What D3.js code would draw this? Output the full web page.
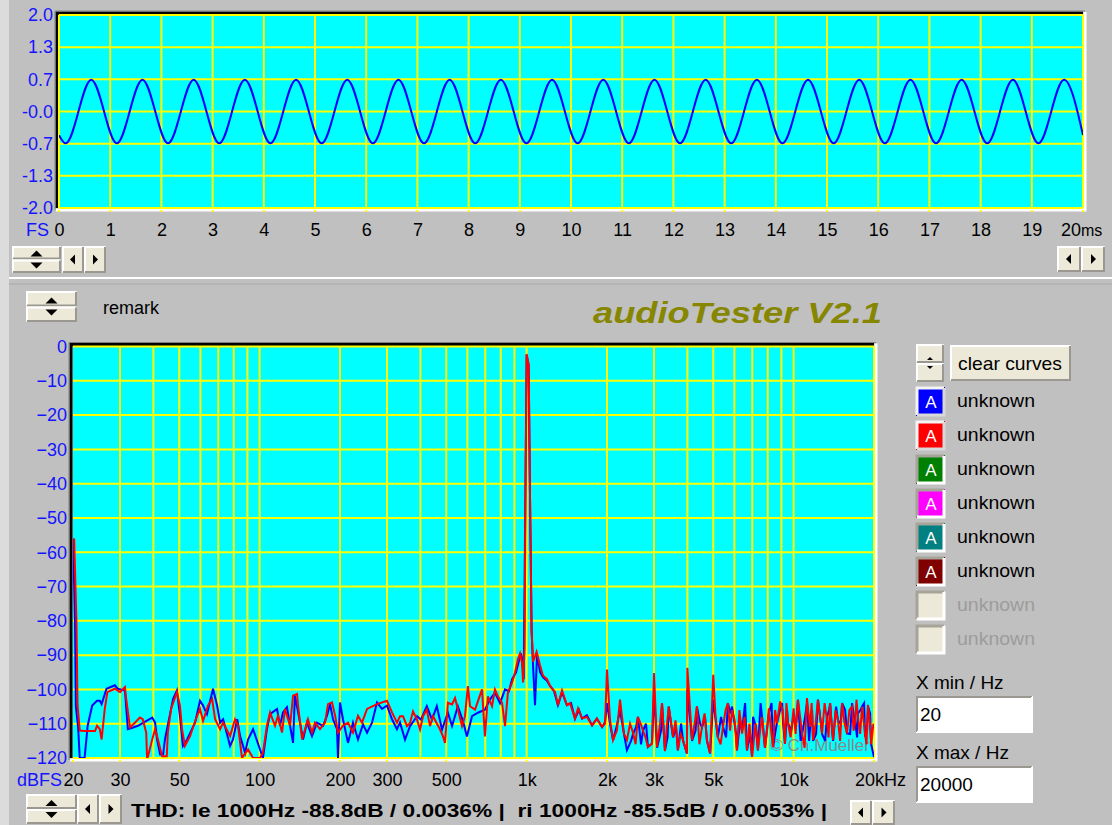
<!DOCTYPE html>
<html>
<head>
<meta charset="utf-8">
<script src="https://cdn.jsdelivr.net/npm/d3@7/dist/d3.min.js"></script>
<style>
  body { margin: 0; background: #c0c0c0; overflow: hidden; }
  svg { display: block; font-family: "Liberation Sans", Arial, sans-serif; }
</style>
</head>
<body>
<svg id="app" width="1112" height="825"></svg>
<script>
// ---- waveform (time in ms, level in FS) ----
const wavePoints = [
  [0, -0.49], [0.13, -0.66], [0.63, 0.66], [1.13, -0.66], [1.63, 0.66], [2.13, -0.66], [2.63, 0.66],
  [3.13, -0.66], [3.63, 0.66], [4.13, -0.66], [4.63, 0.66], [5.13, -0.66], [5.63, 0.66], [6.13, -0.66],
  [6.63, 0.66], [7.13, -0.66], [7.63, 0.66], [8.13, -0.66], [8.63, 0.66], [9.13, -0.66], [9.63, 0.66],
  [10.13, -0.66], [10.63, 0.66], [11.13, -0.66], [11.63, 0.66], [12.13, -0.66], [12.63, 0.66],
  [13.13, -0.66], [13.63, 0.66], [14.13, -0.66], [14.63, 0.66], [15.13, -0.66], [15.63, 0.66],
  [16.13, -0.66], [16.63, 0.66], [17.13, -0.66], [17.63, 0.66], [18.13, -0.66], [18.63, 0.66],
  [19.13, -0.66], [19.63, 0.66], [20, -0.49]
];
const ampTicks = [2, 1.333, 0.667, 0, -0.667, -1.333, -2];
const ampLabels = ["2.0", "1.3", "0.7", "-0.0", "-0.7", "-1.3", "-2.0"];
const timeTicks = [0, 1, 2, 3, 4, 5, 6, 7, 8, 9, 10, 11, 12, 13, 14, 15, 16, 17, 18, 19];

// ---- spectrum (Hz, dBFS), left = blue, right = red ----
const leftSpectrum = [
  [20, -56], [20.35, -80], [20.5, -105], [20.9, -111], [21.2, -120], [22.1, -120], [22.7, -110.6],
  [23.6, -104.7], [24.6, -103.3], [25.2, -103.3], [25.6, -104.3], [26.7, -99.8], [28.7, -98.8],
  [29.4, -99.8], [31.3, -100.3], [32.1, -111.6], [33.6, -111.1], [35, -110.6], [39.6, -108.2],
  [40.6, -109.7], [41.3, -114.6], [42.4, -119], [43.5, -119], [44.2, -114.6], [47.4, -102.8],
  [49, -100.3], [50.3, -107.7], [51.6, -116.5], [53.5, -114.6], [55.8, -111.6], [57.3, -109.7],
  [59.8, -103.3], [61.4, -104.7], [63.5, -107.2], [66.9, -99.8], [69.3, -104.7], [71.1, -109.7],
  [73, -108.7], [77.5, -116.5], [79.5, -114.6], [82.4, -108.7], [84.5, -113.6], [88.2, -118.5],
  [90.5, -114.6], [94.5, -111.6], [102.9, -120], [106.5, -111.6], [109.4, -107.2], [116.2, -105.7],
  [119.2, -110.6], [122.3, -106.7], [126.6, -105.2], [130, -110.6], [133.4, -115.6], [135.6, -101.8],
  [141.7, -109.7], [145.4, -114.6], [150.4, -109.7], [157.1, -113.6], [164, -109.7], [172.7, -110.6],
  [178.7, -107.7], [183.5, -104.3], [188.3, -108.7], [194.9, -111.6], [196.6, -120], [200, -103.8],
  [205.2, -108.7], [214.3, -115.6], [223.7, -109.7], [233.6, -114.6], [243.9, -110.2], [252.5, -112.6],
  [263.6, -109.7], [275.2, -103.8], [287.3, -105.7], [299.9, -104.7], [313.2, -108.7], [326.9, -111.6],
  [335.6, -109.7], [350.4, -114.6], [365.8, -110.7], [388.5, -107.8], [402, -108.8], [422.8, -104.9],
  [442.3, -108.8], [460.9, -104.9], [482, -111.7], [507, -106.8], [525.6, -110.7], [552.5, -104.9],
  [577.8, -109.3], [597.5, -113.7], [624.5, -107.8], [656.9, -106.8], [698.1, -105.9], [729.4, -102.9],
  [761, -101], [795.1, -104], [830.1, -100], [859, -100.5], [881.8, -97.1], [912.8, -95], [937, -91.5],
  [953, -89.5], [961, -91], [975, -97], [990, -41], [1000, -2.5], [1018, -5.5], [1030, -45],
  [1044, -83], [1057, -93], [1075, -104.6], [1094, -90], [1123, -95], [1152, -96.5], [1192, -97.5],
  [1224, -99], [1267, -100.5], [1310, -104.6], [1357, -100.8], [1415, -104.6], [1467, -104],
  [1517, -108.5], [1571, -106], [1613, -108.5], [1682, -107.5], [1758, -110.5], [1833, -108.5],
  [1916, -111], [1967, -109.5], [2000, -104], [2053, -110], [2107, -114.8], [2178, -110.5], [2238, -106],
  [2316, -113], [2375, -117.7], [2503, -113], [2611, -108], [2729, -112], [2846, -116.8], [2949, -115.8],
  [3000, -101], [3080, -117], [3214, -104], [3296, -117.8], [3407, -105], [3535, -114], [3686, -117.8],
  [3854, -115], [3985, -118.7], [4000, -100], [4164, -115], [4344, -105], [4540, -111], [4735, -115],
  [4865, -118.7], [5000, -103], [5200, -114], [5441, -111], [5674, -104], [5880, -105], [6134, -117.8],
  [6409, -112], [6687, -117.8], [6987, -119.7], [7048, -108], [7351, -117.8], [7617, -108], [7811, -117],
  [8073, -107], [8375, -116.8], [8661, -109.8], [8899, -106], [9055, -104], [9282, -115.8], [9522, -109.8],
  [10000, -108], [10380, -103], [10755, -113], [11220, -104], [11527, -111], [11827, -115], [12334, -103],
  [12780, -113], [13333, -108], [13698, -104], [14054, -115], [14657, -109], [15186, -104], [15843, -112.8],
  [16554, -104], [16977, -109], [17400, -107], [18046, -105], [18509, -113], [18986, -105], [19517, -116],
  [20000, -119.7]
];
// finer bins of the left channel between 2 kHz and 20 kHz
const leftSpectrumHf = [
  [2461, -115], [2570, -111], [2683, -116], [2801, -110], [3187, -112], [3371, -114], [3628, -111],
  [3789, -110], [4293, -112], [4463, -110], [4660, -108], [5124, -110], [5349, -108], [5585, -114],
  [5806, -107], [6088, -113], [6302, -109], [6580, -104], [6870, -113], [7235, -111], [7521, -104],
  [7990, -110], [8269, -104], [8560, -112], [9133, -110], [9453, -106], [9785, -112], [10216, -110],
  [10621, -115], [11041, -108], [11429, -115], [11729, -106], [12139, -113], [12620, -109], [13120, -115],
  [13581, -106], [13938, -112], [14425, -105], [14997, -110], [15590, -106], [16277, -113], [16848, -108],
  [17289, -114], [17820, -106], [18367, -104], [18848, -112], [19342, -107]
];
const rightSpectrum = [
  [20.2, -56], [20.6, -80], [20.8, -104.6], [21.2, -112], [22.1, -112.1], [24.2, -112.1], [24.6, -110.6],
  [25.2, -111.6], [25.6, -114.6], [26.3, -105.7], [26.9, -100.8], [28.7, -99.8], [30, -100.8],
  [31.3, -99.3], [31.7, -103.3], [32.7, -111.1], [34.1, -109.7], [35.6, -108.2], [36.5, -108.7],
  [37.6, -112.6], [37.9, -120.5], [39.6, -114.6], [40.6, -111.6], [41.6, -114.6], [43.1, -119.5],
  [44.9, -119.5], [45.3, -112.6], [46.6, -105.7], [49, -100.8], [50.3, -104.7], [51.2, -111.6],
  [52.5, -116.5], [54.9, -113.6], [56.3, -111.1], [58.3, -107.7], [59.8, -105.7], [61.4, -109.2],
  [64.1, -104.7], [66.4, -102.8], [68.1, -108.7], [71.1, -111.6], [73, -109.7], [77.5, -113.6],
  [80.9, -108.7], [83, -110.6], [85.9, -120], [90.5, -117.5], [94.5, -120], [100.3, -120],
  [102.9, -118.5], [106.5, -110.6], [109.4, -106.7], [114.2, -110.6], [117.1, -107.7], [121.3, -112.6],
  [124.4, -105.7], [130, -110.6], [133.4, -101.8], [138.1, -101.3], [139.3, -104.7], [144.2, -114.6],
  [148, -111.6], [151.7, -108.7], [157.1, -112.6], [161.2, -109.7], [168.3, -111.6], [175.8, -109.7],
  [180.3, -104.3], [186.7, -103.8], [191.8, -107.7], [196.6, -112.6], [205.2, -110.6], [214.3, -109.7],
  [223.7, -112.6], [233.6, -107.7], [241.8, -109.7], [252.5, -105.7], [275.2, -104.3], [299.9, -103.3],
  [313.2, -106.7], [326.9, -109.7], [335.6, -107.8], [344.4, -107.8], [356.5, -110.7], [365.8, -109.8],
  [375.4, -106.4], [388.5, -108.8], [398.8, -111.7], [409.2, -107.8], [422.8, -105.9], [434.7, -110.7],
  [446, -107.8], [473.9, -111.7], [486.3, -113.7], [494.7, -115.6], [507, -103.9], [525.6, -104.4],
  [539.4, -102.5], [572.9, -110.7], [587.6, -107.8], [602.7, -99], [613.8, -104.9], [640.8, -105.9],
  [680.7, -100], [698, -113.7], [715.9, -102], [742, -104.9], [761, -100], [780.5, -102], [808.9, -103.9],
  [830, -110.7], [850.8, -101], [881.8, -98], [904, -95.2], [927.4, -91.3], [944.8, -89.5], [961.3, -92.2],
  [969.7, -98], [982.5, -88], [991, -41], [1000, -2.2], [1017.5, -5.3], [1030, -44.6], [1044, -82.8],
  [1057, -92], [1090, -89], [1123, -93], [1152, -96], [1192, -97], [1224, -99], [1278, -100.8],
  [1310, -104.6], [1357, -100.3], [1415, -104.6], [1454, -104], [1517, -108.5], [1558, -105.5],
  [1613, -108.5], [1682, -108], [1758, -110.5], [1833, -108.5], [1916, -111], [1967, -110], [2000, -94.2],
  [2053, -109], [2107, -114.8], [2178, -112], [2238, -103], [2316, -113], [2375, -114.8], [2503, -112.6],
  [2611, -108], [2729, -112], [2846, -116.8], [2949, -115.8], [3000, -95.2], [3080, -116.8], [3214, -104],
  [3296, -118], [3407, -105], [3535, -113.8], [3686, -117.8], [3854, -114.8], [3985, -118.7], [4000, -93.7],
  [4164, -114.8], [4344, -104.9], [4540, -110.8], [4735, -114.8], [4865, -118.7], [5000, -95.7],
  [5200, -113.8], [5441, -110.8], [5674, -104], [5880, -106], [6134, -117.8], [6409, -112.9], [6687, -117.8],
  [6987, -119.7], [7200, -110], [7351, -117.8], [7617, -108], [7811, -117], [8073, -105.5], [8375, -116.8],
  [8661, -109.8], [8899, -103.5], [9282, -115.8], [9522, -109.8], [10000, -105.5], [10380, -103],
  [10755, -112.9], [11220, -102.5], [11527, -110.9], [11827, -114.8], [12334, -103], [12780, -112.9],
  [13333, -108.9], [13698, -104], [14054, -114.8], [14657, -108.9], [15186, -104], [15843, -112.8],
  [16554, -105], [16977, -109.8], [17400, -107.8], [18046, -105], [18509, -113], [18986, -104.5],
  [19517, -116], [19900, -110]
];
// finer bins of the right channel between 2 kHz and 20 kHz
const rightSpectrumHf = [
  [2440, -110], [2559, -116], [2672, -110], [2789, -114], [3160, -110], [3357, -110], [3612, -109],
  [3772, -113], [4275, -109], [4437, -116], [4640, -107], [5101, -108], [5326, -116], [5561, -106],
  [5781, -112], [6010, -109], [6265, -106], [6552, -108], [6830, -110], [7489, -112], [7956, -112],
  [8234, -112], [8523, -106], [9093, -106], [9401, -104], [9743, -114], [10172, -113], [10575, -108],
  [10994, -117], [11370, -107], [11678, -104], [12087, -110], [12566, -108], [13064, -104], [13511, -114],
  [13877, -110], [14364, -106], [14932, -115], [15523, -110], [16183, -106], [16769, -112], [17195, -103],
  [17744, -113], [18289, -109], [18745, -116], [19231, -108]
];
const dbTicks = [0, -10, -20, -30, -40, -50, -60, -70, -80, -90, -100, -110, -120];
const freqGrid = [30, 40, 50, 60, 70, 80, 90, 100, 200, 300, 400, 500, 600, 700, 800, 900,
                  1000, 2000, 3000, 4000, 5000, 6000, 7000, 8000, 9000, 10000, 20000];
const freqTicks = [20, 30, 50, 100, 200, 300, 500, 1000, 2000, 3000, 5000, 10000];
const freqLabels = ["20", "30", "50", "100", "200", "300", "500", "1k", "2k", "3k", "5k", "10k"];

// ---- legend / side panel ----
const curveNames = ["unknown", "unknown", "unknown", "unknown", "unknown", "unknown", "unknown", "unknown"];
const curveColors = ["#0000ff", "#ff0000", "#008000", "#ff00ff", "#008080", "#800000", null, null];
const thdText = "THD: le 1000Hz -88.8dB / 0.0036% |  ri 1000Hz -85.5dB / 0.0053% |";

const svg = d3.select("#app");
const FACE = "#ece9d8";
const BLUE = "#1414ff";

svg.append("rect").attr("width", 1112).attr("height", 825).attr("fill", "#c0c0c0");
svg.append("rect").attr("width", 9).attr("height", 825).attr("fill", "#dcdcdc");

// classic raised / sunken box
function bevel(x, y, w, h, raised, face) {
  const g = svg.append("g");
  g.append("rect").attr("x", x).attr("y", y).attr("width", w).attr("height", h).attr("fill", face);
  const tl = raised ? "#ffffff" : "#9a9890";
  const br = raised ? "#9a9890" : "#ffffff";
  g.append("path").attr("d", `M${x + 1},${y + h - 1}V${y + 1}H${x + w - 1}`)
    .attr("stroke", tl).attr("stroke-width", 2).attr("fill", "none");
  g.append("path").attr("d", `M${x + 1},${y + h - 1}H${x + w - 1}V${y + 1}`)
    .attr("stroke", br).attr("stroke-width", 2).attr("fill", "none");
  return g;
}

function arrowButton(x, y, w, h, dir) {
  const g = bevel(x, y, w, h, true, FACE);
  const cx = x + w / 2, cy = y + h / 2;
  const d = dir < 0
    ? `M${cx - 3},${cy}L${cx + 2},${cy - 5}L${cx + 2},${cy + 5}Z`
    : `M${cx + 3},${cy}L${cx - 2},${cy - 5}L${cx - 2},${cy + 5}Z`;
  g.append("path").attr("d", d).attr("fill", "#000");
}

function spinner(x, y, w, h, small) {
  const hh = h / 2;
  const s = small ? 3 : 6;
  const up = bevel(x, y, w, hh, true, FACE);
  const dn = bevel(x, y + hh, w, hh, true, FACE);
  const cx = x + w / 2;
  up.append("path").attr("d", `M${cx - s},${y + hh - 3}L${cx + s},${y + hh - 3}L${cx},${y + hh - 3 - s}Z`).attr("fill", "#000");
  dn.append("path").attr("d", `M${cx - s},${y + hh + 3}L${cx + s},${y + hh + 3}L${cx},${y + hh + 3 + s}Z`).attr("fill", "#000");
}

function plotFrame(x0, y0, x1, y1) {
  svg.append("path").attr("d", `M${x0 - 2},${y1}V${y0 - 2}H${x1}`)
    .attr("stroke", "#000").attr("stroke-width", 3).attr("fill", "none");
  svg.append("path").attr("d", `M${x0 - 4},${y1 + 2}V${y0 - 4}H${x1 + 2}`)
    .attr("stroke", "#808080").attr("stroke-width", 1).attr("fill", "none");
  svg.append("path").attr("d", `M${x0 - 3},${y1 + 2}H${x1 + 2}V${y0 - 3}`)
    .attr("stroke", "#ffffff").attr("stroke-width", 3).attr("fill", "none");
  svg.append("rect").attr("x", x0).attr("y", y0).attr("width", x1 - x0).attr("height", y1 - y0)
    .attr("fill", "#00ffff");
}

function styleAxis(g, color) {
  g.select(".domain").remove();
  g.selectAll("text").attr("fill", color).attr("font-size", 18)
    .attr("font-family", "'Liberation Sans', Arial, sans-serif");
}

// ================= top: scope =================
const xTime = d3.scaleLinear().domain([0, 20]).range([59, 1083]);
const yAmp = d3.scaleLinear().domain([-2, 2]).range([208, 15]);
plotFrame(59, 15, 1083, 208);

const scope = svg.append("g");
scope.selectAll(".vg").data(timeTicks.concat([20])).enter().append("line")
  .attr("x1", d => xTime(d)).attr("x2", d => xTime(d)).attr("y1", 15).attr("y2", 208)
  .attr("stroke", "#ffff00").attr("stroke-width", 2);
scope.selectAll(".hg").data(ampTicks).enter().append("line")
  .attr("x1", 59).attr("x2", 1083).attr("y1", d => yAmp(d)).attr("y2", d => yAmp(d))
  .attr("stroke", "#ffff00").attr("stroke-width", 2);
scope.selectAll(".tk").data(timeTicks.concat([20])).enter().append("rect")
  .attr("x", d => xTime(d) - 1).attr("y", 210).attr("width", 2).attr("height", 2).attr("fill", "#ffff00");

svg.append("defs").append("clipPath").attr("id", "clipTop").append("rect")
  .attr("x", 59).attr("y", 15).attr("width", 1024).attr("height", 193);
scope.append("path").datum(wavePoints)
  .attr("clip-path", "url(#clipTop)")
  .attr("d", d3.line().x(d => xTime(d[0])).y(d => yAmp(d[1])).curve(d3.curveMonotoneX))
  .attr("fill", "none").attr("stroke", "#0000ff").attr("stroke-width", 2);

svg.append("g").attr("transform", "translate(59,0)")
  .call(d3.axisLeft(yAmp).tickValues(ampTicks).tickFormat((d, i) => ampLabels[i]).tickSize(0).tickPadding(6))
  .call(g => styleAxis(g, BLUE));
svg.append("g").attr("transform", "translate(0,208)")
  .call(d3.axisBottom(xTime).tickValues(timeTicks).tickSize(0).tickPadding(15))
  .call(g => styleAxis(g, "#000"));
svg.append("text").attr("x", 1061).attr("y", 236).attr("font-size", 18).text("20")
  .append("tspan").attr("font-size", 16).text("ms");
svg.append("text").attr("x", 26).attr("y", 236).attr("font-size", 18).attr("fill", BLUE).text("FS");

spinner(12, 246, 49, 27);
arrowButton(62, 246, 22, 27, -1);
arrowButton(84, 246, 22, 27, 1);
arrowButton(1057, 246, 24, 26, -1);
arrowButton(1081, 246, 24, 26, 1);

// panel separator
svg.append("line").attr("x1", 9).attr("x2", 1112).attr("y1", 278).attr("y2", 278).attr("stroke", "#ffffff").attr("stroke-width", 2);
svg.append("line").attr("x1", 9).attr("x2", 1112).attr("y1", 284).attr("y2", 284).attr("stroke", "#a8a8a8").attr("stroke-width", 1);

// ================= bottom: spectrum =================
spinner(26, 291, 51, 31);
svg.append("text").attr("x", 103).attr("y", 314).attr("font-size", 18).text("remark");
svg.append("text").attr("x", 593).attr("y", 323).attr("font-size", 29)
  .attr("font-weight", "bold").attr("font-style", "italic").attr("fill", "#868600")
  .attr("textLength", 289).attr("lengthAdjust", "spacingAndGlyphs").text("audioTester V2.1");

const xFreq = d3.scaleLog().domain([20, 20000]).range([73, 874]);
const yDb = d3.scaleLinear().domain([-120, 0]).range([758, 346.5]);
plotFrame(73, 346.5, 874, 758);

const spec = svg.append("g");
spec.selectAll(".vg").data(freqGrid).enter().append("line")
  .attr("x1", d => xFreq(d)).attr("x2", d => xFreq(d)).attr("y1", 346.5).attr("y2", 758)
  .attr("stroke", "#ffff00").attr("stroke-width", 2);
spec.selectAll(".hg").data(dbTicks).enter().append("line")
  .attr("x1", 73).attr("x2", 874).attr("y1", d => yDb(d)).attr("y2", d => yDb(d))
  .attr("stroke", "#ffff00").attr("stroke-width", 2);
spec.selectAll(".tk").data(freqTicks.concat([20000])).enter().append("rect")
  .attr("x", d => xFreq(d) - 1).attr("y", 760).attr("width", 2).attr("height", 2).attr("fill", "#ffff00");

spec.append("text").attr("x", 870).attr("y", 751).attr("text-anchor", "end")
  .attr("font-size", 17).attr("fill", "#8a8a8a").text("© Ch.Mueller");

svg.select("defs").append("clipPath").attr("id", "clipSpec").append("rect")
  .attr("x", 73).attr("y", 346.5).attr("width", 801).attr("height", 411.5);
const specLine = d3.line().x(d => xFreq(d[0])).y(d => yDb(d[1]));
const leftAll = d3.sort(leftSpectrum.concat(leftSpectrumHf), d => d[0]);
const rightAll = d3.sort(rightSpectrum.concat(rightSpectrumHf), d => d[0]);
spec.append("path").datum(leftAll).attr("clip-path", "url(#clipSpec)")
  .attr("d", specLine).attr("fill", "none").attr("stroke", "#0000ff").attr("stroke-width", 2);
spec.append("path").datum(rightAll).attr("clip-path", "url(#clipSpec)")
  .attr("d", specLine).attr("fill", "none").attr("stroke", "#ff0000").attr("stroke-width", 2);

svg.append("g").attr("transform", "translate(73,0)")
  .call(d3.axisLeft(yDb).tickValues(dbTicks).tickSize(0).tickPadding(6))
  .call(g => styleAxis(g, BLUE));
svg.append("g").attr("transform", "translate(0,758)")
  .call(d3.axisBottom(xFreq).tickValues(freqTicks).tickFormat((d, i) => freqLabels[i]).tickSize(0).tickPadding(15))
  .call(g => styleAxis(g, "#000"));
svg.append("text").attr("x", 906).attr("y", 786).attr("text-anchor", "end").attr("font-size", 18).text("20kHz");
svg.append("text").attr("x", 17).attr("y", 786).attr("font-size", 18).attr("fill", BLUE).text("dBFS");

// status line
spinner(26, 794, 51, 30);
arrowButton(77, 794, 22, 30, -1);
arrowButton(99, 794, 23, 30, 1);
svg.append("text").attr("x", 131).attr("y", 817).attr("font-size", 18).attr("font-weight", "bold")
  .attr("xml:space", "preserve").style("white-space", "pre")
  .attr("textLength", 696).attr("lengthAdjust", "spacingAndGlyphs").text(thdText);
arrowButton(850, 800, 22, 25, -1);
arrowButton(872, 800, 23, 25, 1);

// ================= side panel =================
spinner(916, 344, 28, 38, true);
const clr = bevel(950, 345, 121, 36, true, FACE);
clr.append("text").attr("x", 1010).attr("y", 370).attr("text-anchor", "middle").attr("font-size", 19)
  .attr("textLength", 104).attr("lengthAdjust", "spacingAndGlyphs").text("clear curves");

const rows = svg.append("g").selectAll("g").data(curveNames).enter().append("g")
  .attr("transform", (d, i) => `translate(916,${387 + i * 34})`);
rows.each(function (d, i) {
  const g = d3.select(this);
  const c = curveColors[i];
  const raised = i < 2;
  g.append("rect").attr("width", 29).attr("height", 29).attr("fill", c || FACE);
  g.append("path").attr("d", "M1,28V1H28").attr("stroke", raised ? "#f4f4f4" : "#a6a398").attr("stroke-width", 3).attr("fill", "none");
  g.append("path").attr("d", "M1,28H28V1").attr("stroke", raised ? "#d8d8d8" : "#ffffff").attr("stroke-width", 3).attr("fill", "none");
  if (c) {
    g.append("text").attr("x", 15).attr("y", 21).attr("text-anchor", "middle").attr("font-size", 17)
      .attr("fill", "#fff").text("A");
  }
  g.append("text").attr("x", 41).attr("y", 20).attr("font-size", 19)
    .attr("textLength", 78).attr("lengthAdjust", "spacingAndGlyphs")
    .attr("fill", c ? "#000" : "#9c9c9c").text(d);
});

svg.append("text").attr("x", 916).attr("y", 689).attr("font-size", 19).text("X min / Hz");
bevel(916, 696, 117, 37, false, "#ffffff");
svg.append("text").attr("x", 920).attr("y", 721).attr("font-size", 19).text("20");
svg.append("text").attr("x", 916).attr("y", 759).attr("font-size", 19).text("X max / Hz");
bevel(916, 766, 117, 37, false, "#ffffff");
svg.append("text").attr("x", 920).attr("y", 791).attr("font-size", 19).text("20000");
</script>
</body>
</html>
